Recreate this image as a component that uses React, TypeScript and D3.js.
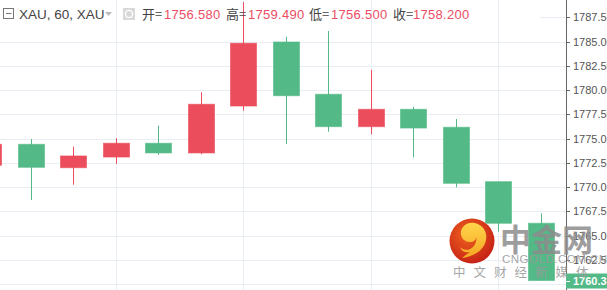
import React from "react";
import * as d3 from "d3";

// ---- data ----
const candleIndex = [-1, 0, 1, 2, 3, 4, 5, 6, 7, 8, 9, 10, 11, 12];
const opens = [1772.26, 1774.42, 1772.01, 1773.11, 1774.53, 1773.53, 1778.37, 1784.97, 1779.58, 1776.24, 1778.03, 1776.18, 1770.57, 1766.28];
const highs = [1774.7, 1774.97, 1774.18, 1775.04, 1776.34, 1779.78, 1789.09, 1785.52, 1786.1, 1782.08, 1778.3, 1777.03, 1770.57, 1767.31];
const lows = [1771.8, 1768.68, 1770.26, 1772.42, 1773.35, 1773.39, 1777.89, 1774.45, 1775.72, 1775.45, 1773.08, 1769.99, 1765.41, 1760.38];
const closes = [1774.42, 1772.05, 1773.22, 1774.53, 1773.53, 1778.55, 1784.84, 1779.43, 1776.24, 1778.03, 1776.1, 1770.4, 1766.28, 1760.38];
const priceTicks = [1760, 1762.5, 1765, 1767.5, 1770, 1772.5, 1775, 1777.5, 1780, 1782.5, 1785, 1787.5];
const gridCandles = [2, 5, 8, 11];
const lastPrice = 1760.38;
const headerLabels = ["开=", "高=", "低=", "收="];
const headerValues = ["1756.580", "1759.490", "1756.500", "1758.200"];
const symbolText = "XAU, 60, XAU";

const W = 607;
const H = 290;
const AXIS_X = 566;
const UP = "#eb4d5c";
const DOWN = "#53b987";

export default function App() {
  const x = d3.scaleLinear().domain([0, 12]).range([30.7, 540.8]);
  const y = d3.scaleLinear().domain([1760, 1785]).range([284.2, 41.7]);
  const bodyW = 26;
  const fmt = d3.format(".3f");
  const headerX = [142, 226, 309, 393];
  const valueX = [164, 248, 331, 413];

  return (
    <svg
      width={W}
      height={H}
      style={{ position: "fixed", left: 0, top: 0, background: "#fff" }}
      fontFamily="'Liberation Sans', Arial, sans-serif"
    >
      <defs>
        <clipPath id="plot">
          <rect x={0} y={0} width={AXIS_X} height={H} />
        </clipPath>
        <radialGradient id="logoG" cx="0.4" cy="0.35" r="0.7">
          <stop offset="0" stopColor="#f0641e" />
          <stop offset="1" stopColor="#c41e16" />
        </radialGradient>
        <linearGradient id="swirlG" x1="0" y1="0" x2="0" y2="1">
          <stop offset="0" stopColor="#ffd54a" />
          <stop offset="1" stopColor="#f5a623" />
        </linearGradient>
      </defs>

      {/* horizontal grid */}
      <g clipPath="url(#plot)">
        {priceTicks.map((p) => (
          <line key={p} x1={0} x2={AXIS_X} y1={Math.round(y(p)) + 0.5} y2={Math.round(y(p)) + 0.5} stroke="#e8eef4" strokeWidth={1} />
        ))}
      </g>
      {/* header backdrop */}
      <rect x={0} y={6} width={540} height={19} fill="#fff" />
      {/* vertical grid */}
      {gridCandles.map((i) => (
        <line key={i} x1={Math.round(x(i)) + 0.5} x2={Math.round(x(i)) + 0.5} y1={0} y2={H} stroke="#e8eef4" strokeWidth={1} />
      ))}

      {/* candles */}
      <g clipPath="url(#plot)">
        {candleIndex.map((ci, k) => {
          const o = opens[k], c = closes[k], h = highs[k], l = lows[k];
          const col = c >= o ? UP : DOWN;
          const cx = Math.round(x(ci)) + 0.5;
          const top = y(Math.max(o, c));
          const bot = y(Math.min(o, c));
          return (
            <g key={ci}>
              <line x1={cx} x2={cx} y1={y(h)} y2={y(l)} stroke={col} strokeWidth={1} />
              <rect x={cx - bodyW / 2} y={top} width={bodyW} height={Math.max(1, bot - top)} fill={col} stroke={col} strokeOpacity={0.6} strokeWidth={1} />
            </g>
          );
        })}
      </g>

      {/* right axis */}
      <line x1={AXIS_X + 0.5} x2={AXIS_X + 0.5} y1={0} y2={H} stroke="#666" strokeWidth={1} />
      {priceTicks.map((p) => (
        <g key={p}>
          <line x1={AXIS_X} x2={AXIS_X + 4} y1={Math.round(y(p)) + 0.5} y2={Math.round(y(p)) + 0.5} stroke="#666" />
          <text x={573} y={y(p)} dy="0.35em" fontSize={11} fill="#555">{fmt(p)}</text>
        </g>
      ))}

      {/* last price label */}
      <rect x={AXIS_X} y={y(lastPrice) - 7} width={W - AXIS_X} height={15} fill={DOWN} />
      <line x1={AXIS_X} x2={AXIS_X + 4} y1={Math.round(y(lastPrice)) + 0.5} y2={Math.round(y(lastPrice)) + 0.5} stroke="#fff" />
      <text x={573} y={y(lastPrice) + 0.5} dy="0.35em" fontSize={11} fontWeight="bold" fill="#fff">{fmt(lastPrice)}</text>

      {/* watermark */}
      <g>
        <circle cx={472} cy={241} r={22.5} fill="url(#logoG)" />
        <path
          d="M 462 258 C 478 256, 488 246, 486 234 C 484 224, 472 220, 465 225 C 458 230, 460 242, 470 242 C 476 242, 478 236, 474 233 C 478 236, 477 246, 470 249 C 466 251, 462 249, 460 247 C 462 252, 466 253, 470 252 C 466 255, 464 256, 462 258 Z"
          fill="url(#swirlG)"
        />
        <text x={500} y={251} fontSize={31} fontWeight="bold" fill="#8c8c8c" fillOpacity={0.85} fontFamily="'Noto Sans CJK SC', sans-serif">中金网</text>
        <text x={502} y={263} fontSize={11.5} fill="#9a9a9a" fillOpacity={0.9} letterSpacing={0.5}>CNGOLD.COM.CN</text>
        <text x={453} y={277} fontSize={12.5} fill="#9a9a9a" fillOpacity={0.9} fontFamily="'Noto Sans CJK SC', sans-serif" letterSpacing={8}>中文财经新媒体</text>
      </g>

      {/* header */}
      <rect x={3.5} y={8.5} width={10} height={10} fill="none" stroke="#777" strokeWidth={1} />
      <line x1={6} x2={11.5} y1={13.5} y2={13.5} stroke="#777" />
      <text x={19} y={19} fontSize={13.5} fill="#444">{symbolText}</text>
      <path d="M105 12 L112 12 L108.5 16 Z" fill="#bbb" />
      <rect x={123} y={8} width={12} height={12} fill="#d9d9d9" />
      <circle cx={129} cy={14} r={3.6} fill="none" stroke="#fff" strokeWidth={1.4} />
      {headerLabels.map((lab, i) => (
        <g key={lab}>
          <text x={headerX[i]} y={19} fontSize={13} fill="#444" fontFamily="'Noto Sans CJK SC', sans-serif">{lab}</text>
          <text x={valueX[i]} y={19} fontSize={13} fill="#ec4d63" letterSpacing={0.3}>{headerValues[i]}</text>
        </g>
      ))}
    </svg>
  );
}
